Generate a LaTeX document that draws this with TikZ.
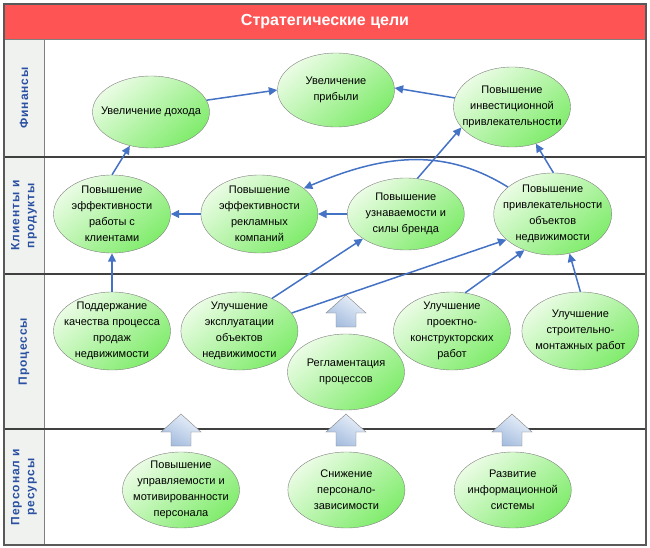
\documentclass[tikz,border=0pt]{standalone}
\usepackage{fontspec}
\setmainfont{Liberation Sans}
\newfontfamily\lanefont[LetterSpace=8]{Liberation Sans}
\usetikzlibrary{positioning, arrows.meta, shapes.geometric}

\definecolor{titlered}{RGB}{255,84,84}
\definecolor{lanegray}{RGB}{240,242,240}
\definecolor{laneblue}{RGB}{42,80,162}
\definecolor{linkblue}{RGB}{68,114,196}
\definecolor{goallight}{RGB}{234,252,228}
\definecolor{goalgreen}{RGB}{128,236,108}
\definecolor{bluelight}{RGB}{234,241,250}
\definecolor{bluedark}{RGB}{164,188,222}

\begin{document}
\begin{tikzpicture}[
      x=1pt, y=-1pt,
      % заголовок
      title/.style={fill=titlered, text=white, font=\bfseries\fontsize{16}{18}\selectfont,
                    minimum width=642pt, minimum height=35pt, inner sep=0pt},
      % подписи дорожек
      lanehead/.style={draw=gray, fill=lanegray, text=laneblue, rotate=90, align=center,
                       font=\lanefont\bfseries\fontsize{12}{15}\selectfont,
                       minimum height=40pt, inner sep=0pt},
      % цели (эллипсы)
      goal/.style={ellipse, draw=gray, top color=goallight, bottom color=goalgreen,
                   shading angle=40, minimum width=117pt, minimum height=78pt, inner sep=0pt},
      every label/.style={font=\fontsize{11}{16}\selectfont, align=center, inner sep=0pt},
      % стрелки связей
      link/.style={draw=linkblue, line width=1.5pt, -{Triangle[length=8.5pt, width=8pt]}},
      sep/.style={draw=black!75, line width=2pt},
      blockarrow/.style={draw=gray, top color=bluelight, bottom color=bluedark, shading angle=-30},
      blockup/.pic={\path[blockarrow] (-10,0) -- (-10,-14) -- (-20,-14) -- (0,-32)
                                      -- (20,-14) -- (10,-14) -- (10,0) -- cycle;}
    ]

    \useasboundingbox (0,0) rectangle (650,548);

    % --- рамка и дорожки ---
    \node [title] (title) at (325,21.5) {Стратегические цели};
    \node [lanehead, minimum width=118pt] (fin) at (24,98) {Финансы};
    \node [lanehead, minimum width=117pt] (cli) at (24,215.5) {Клиенты и\\продукты};
    \node [lanehead, minimum width=155pt] (proc) at (24,351.5) {Процессы};
    \node [lanehead, minimum width=116pt] (pers) at (24,487) {Персонал и\\ресурсы};
    \draw [gray] (4,39) -- (646,39);
    \draw [sep] (4,157) -- (646,157);
    \draw [sep] (4,274) -- (646,274);
    \draw [sep] (4,429) -- (646,429);
    \draw [gray!70!black, line width=1.2pt] (4,4) rectangle (646,545);

    % --- Финансы ---
    \node [goal, minimum height=72pt, label={center:Увеличение дохода}] (income) at (151,112) {};
    \node [goal, minimum height=74pt, label={center:Увеличение\\прибыли}] (profit) at (336,90) {};
    \node [goal, minimum height=80pt, label={center:Повышение\\инвестиционной\\привлекательности}] (invest) at (512,107) {};

    % --- Клиенты и продукты ---
    \node [goal, label={center:Повышение\\эффективности\\работы с\\клиентами}] (work) at (112,214) {};
    \node [goal, right=30pt of work, label={center:Повышение\\эффективности\\рекламных\\компаний}] (ads) {};
    \node [goal, minimum height=72pt, right=29pt of ads, label={center:Повышение\\узнаваемости и\\силы бренда}] (brand) {};
    \node [goal, minimum height=82pt, minimum width=118pt, right=29pt of brand, label={center:Повышение\\привлекательности\\объектов\\недвижимости}] (attr) {};

    % --- Процессы ---
    \node [goal, label={center:Поддержание\\качества процесса\\продаж\\недвижимости}] (sales) at (112,331) {};
    \node [goal, right=10pt of sales, label={center:Улучшение\\эксплуатации\\объектов\\недвижимости}] (ops) {};
    \node [goal, minimum height=76pt, label={center:Регламентация\\процессов}] (reg) at (346,372) {};
    \node [goal, label={center:Улучшение\\проектно-\\конструкторских\\работ}] (design) at (452,331) {};
    \node [goal, right=11pt of design, label={center:Улучшение\\строительно-\\монтажных работ}] (build) {};

    % --- Персонал и ресурсы ---
    \node [goal, minimum height=76pt, label={center:Повышение\\управляемости и\\мотивированности\\персонала}] (staff) at (181,490) {};
    \node [goal, minimum height=76pt, right=48pt of staff, label={center:Снижение\\персонало-\\зависимости}] (depend) {};
    \node [goal, minimum height=76pt, right=49pt of depend, label={center:Развитие\\информационной\\системы}] (infosys) {};

    % --- объёмные стрелки ---
    \pic at (346,327) {blockup};
    \foreach \x in {181,346,512}
      \pic at (\x,446) {blockup};

    % --- связи ---
    \draw [link] (income.12) -- (profit.180);
    \draw [link] (invest.171) -- (profit.2);
    \draw [link] (work.north) -- (income.238);
    \draw [link] (brand.72) -- (invest.202);
    \draw [link] (attr.89) -- (invest.303);
    \draw [link] (attr.149) to[out=148, in=23] (ads.30);
    \draw [link] (ads.west) -- (work.east);
    \draw [link] (brand.west) -- (ads.east);
    \draw [link] (sales.north) -- (work.south);
    \draw [link] (ops.45) -- (brand.210);
    \draw [link] (ops.19) -- (attr.209);
    \draw [link] (design.71) -- (attr.232);
    \draw [link] (build.north) -- (attr.293);

    \end{tikzpicture}
\end{document}
